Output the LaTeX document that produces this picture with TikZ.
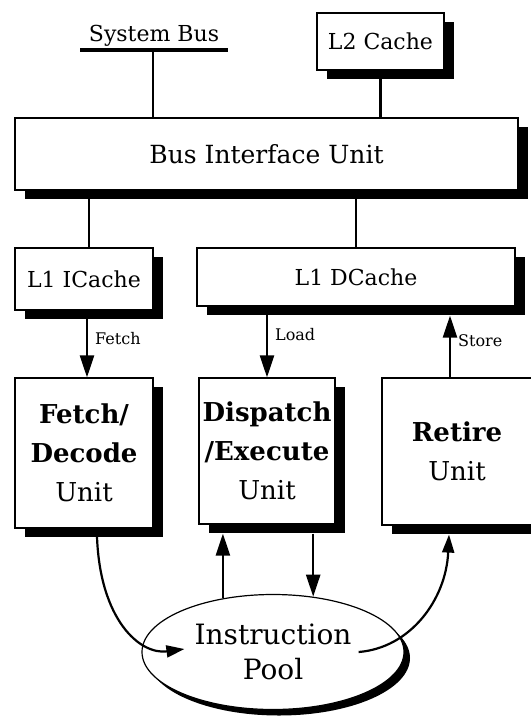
\documentclass[tikz,border=0pt]{standalone}
\usepackage{fontspec}
\setmainfont{DejaVu Serif}
\usetikzlibrary{arrows.meta,shadows,shapes.geometric}

\tikzset{
  unitbox/.style={draw=black, line width=1.2pt, fill=white, align=center, inner sep=0pt,
    drop shadow={shadow xshift=10pt, shadow yshift=-9pt, fill=black, opacity=1}},
  wire/.style={line width=2.4pt},
  flow/.style={line width=2.4pt, -{Triangle[length=22pt,width=14pt]}},
  curveflow/.style={line width=2.2pt, -{Triangle[length=18pt,width=12pt]}},
  lbl/.style={font=\fontsize{16}{18}\selectfont, right, inner sep=7pt},
  big/.style={font=\fontsize{25}{30}\selectfont},
  mid/.style={font=\fontsize{22}{26}\selectfont},
  unittext/.style={font=\fontsize{26}{39}\selectfont},
}
\newcommand{\hd}[1]{{\bfseries #1}}

\begin{document}
\begin{tikzpicture}[x=1pt, y=-1pt]
  \useasboundingbox (0,0) rectangle (530,719);

  % system bus and L2
  \node[mid, anchor=base] (sysbuslabel) at (154,42) {System Bus};
  \coordinate (busleft) at (80,50);
  \coordinate (busright) at (228,50);
  \coordinate (sysbus) at (153,50);
  \draw[line width=4pt] (busleft) -- (busright);
  \node[unitbox, mid, minimum width=127pt, minimum height=57pt] (l2) at (380.5,41.5) {L2 Cache};

  % bus interface unit
  \node[unitbox, big, minimum width=503pt, minimum height=72pt] (biu) at (266.5,154) {Bus Interface Unit};

  % caches
  \node[unitbox, mid, minimum width=138pt, minimum height=62pt] (l1i) at (84,279) {L1 ICache};
  \node[unitbox, mid, minimum width=318pt, minimum height=58pt] (l1d) at (356,277) {L1 DCache};

  % units
  \node[unitbox, unittext, minimum width=138pt, minimum height=150pt] (fd) at (84,453)
    {\hd{Fetch/}\\\hd{Decode}\\Unit};
  \node[unitbox, unittext, minimum width=136pt, minimum height=146pt] (de) at (267,451)
    {\hd{Dispatch}\\\hd{/Execute}\\Unit};
  \node[unitbox, unittext, minimum width=150pt, minimum height=147pt] (ru) at (457,451.5)
    {\hd{Retire}\\Unit};

  % instruction pool
  \node[ellipse, draw=black, line width=1.2pt, fill=white, minimum width=262pt, minimum height=115pt,
    inner sep=0pt, align=center, font=\fontsize{28}{35}\selectfont,
    drop shadow={shadow xshift=6pt, shadow yshift=-6pt, fill=black, opacity=1}] (pool) at (273,652)
    {Instruction\\Pool};

  % wires
  \draw[wire] (sysbus) -- (sysbus |- biu.north);
  \draw[wire] (l2.south) -- (l2.south |- biu.north);
  \draw[wire] ([xshift=5pt]l1i.north) -- ([xshift=5pt]l1i.north |- biu.south);
  \draw[wire] (l1d.north) -- (l1d.north |- biu.south);

  % load / fetch / store
  \draw[flow] ([xshift=3pt]l1i.south) -- node[lbl, pos=0.42] {Fetch} ([xshift=3pt]fd.north);
  \draw[flow] (l1d.south -| de.north) -- node[lbl, pos=0.4] {Load} (de.north);
  \draw[flow] ([xshift=-7pt]ru.north) -- node[lbl, pos=0.6] {Store} ([xshift=-7pt,yshift=-9pt]ru.north |- l1d.south);

  % pool traffic
  \coordinate (fdout) at ([xshift=13pt,yshift=-8pt]fd.south);
  \coordinate (poolin) at ([xshift=43pt,yshift=3pt]pool.west);
  \coordinate (poolout) at ([xshift=-46pt]pool.east);
  \coordinate (ruin) at ([xshift=-8pt,yshift=-9pt]ru.south);
  \draw[curveflow] (fdout) .. controls (100,620) and (140,655) .. (poolin);
  \draw[curveflow] (poolout) .. controls (410,648) and (446,600) .. (ruin);
  \draw[flow] (pool.133) -- ([yshift=-9pt]pool.133 |- de.south);
  \draw[flow] ([yshift=-9pt]pool.54 |- de.south) -- (pool.54);
\end{tikzpicture}
\end{document}
